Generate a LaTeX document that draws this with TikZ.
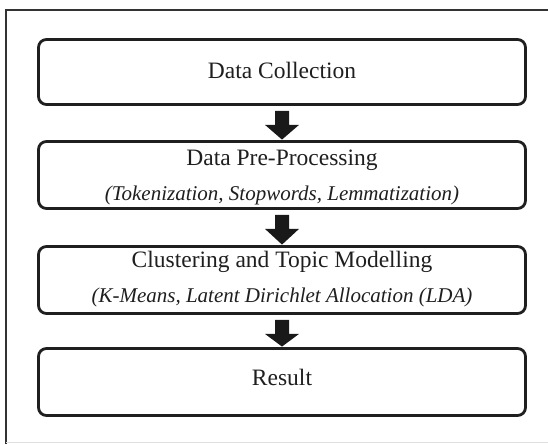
\documentclass[tikz,border=0pt]{standalone}
\usepackage{fontspec}
\setmainfont{Liberation Serif}
\usetikzlibrary{calc}

\tikzset{
  stage/.style={draw=black!88, line width=2.8pt, rounded corners=8pt,
    minimum width=487pt, inner sep=0pt, fill=white},
  title/.style={anchor=base, inner sep=0pt, font=\fontsize{23.5}{28}\selectfont, text=black!88},
  detail/.style={anchor=base, inner sep=0pt, font=\fontsize{21}{25}\selectfont\itshape, text=black!88},
  flow/.style={fill=black!90, draw=none},
}

% block arrow from the bottom of one stage to the top of the next
\newcommand{\flowarrow}[2]{%
  \fill[flow]
    ($(#1.south)+(-7,-5)$) -- ($(#1.south)+(7,-5)$) --
    ($(#1.south)+(7,-19)$) -- ($(#1.south)+(17,-19)$) --
    ($(#2.north)+(0,0.5)$) --
    ($(#1.south)+(-17,-19)$) -- ($(#1.south)+(-7,-19)$) -- cycle;}

\begin{document}
\begin{tikzpicture}[x=1pt,y=1pt]
  \useasboundingbox (0,0) rectangle (548,444);
  \fill[white] (0,0) rectangle (548,444);

  % outer frame
  \coordinate (fbl) at (6,0);
  \coordinate (ftl) at (6,434);
  \coordinate (ftr) at (548,434);
  \coordinate (fbr) at (548,2);
  \coordinate (fbl2) at (6,2);
  \draw[black!80, line width=1.6pt] (fbl) -- (ftl) -- (ftr);
  \draw[black!12, line width=1pt] (fbl2) -- (fbr);

  % stages
  \node[stage, minimum height=65pt] (collect) at (282,372) {};
  \node[stage, minimum height=67pt] (prep) at (282,269) {};
  \node[stage, minimum height=67pt] (cluster) at (282,164) {};
  \node[stage, minimum height=67pt] (result) at (282,62) {};

  % stage texts
  \node[title] (collectT) at (282,365) {Data Collection};
  \node[title] (prepT) at (282,278) {Data Pre-Processing};
  \node[detail] (prepD) at (282,243) {(Tokenization, Stopwords, Lemmatization)};
  \node[title] (clusterT) at (282,176) {Clustering and Topic Modelling};
  \node[detail] (clusterD) at (282,141) {(K-Means, Latent Dirichlet Allocation (LDA)};
  \node[title] (resultT) at (282,58) {Result};

  % flow arrows
  \flowarrow{collect}{prep}
  \flowarrow{prep}{cluster}
  \flowarrow{cluster}{result}
\end{tikzpicture}
\end{document}
